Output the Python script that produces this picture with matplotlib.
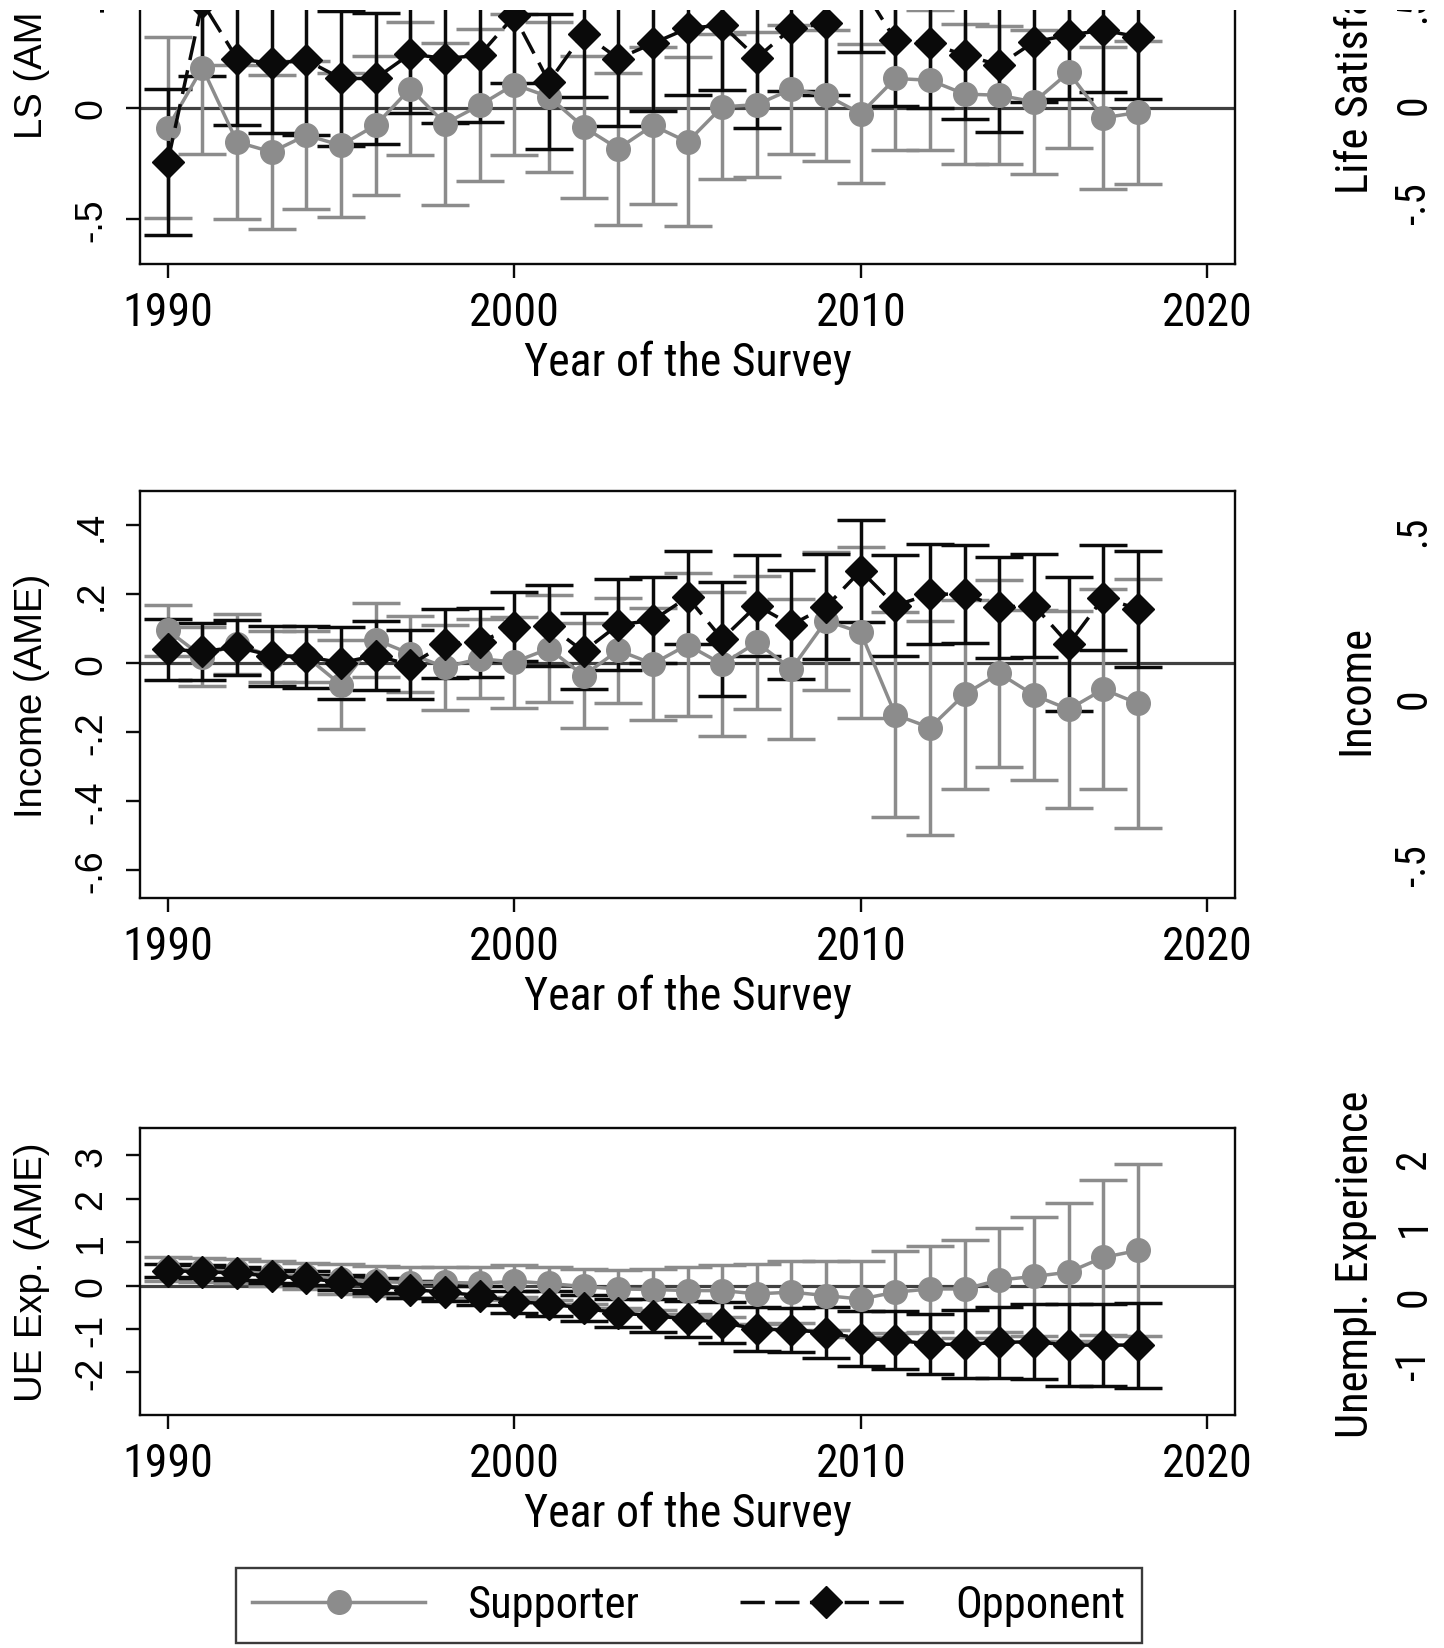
import matplotlib
matplotlib.use("Agg")
import matplotlib.pyplot as plt
from matplotlib import font_manager
from matplotlib.lines import Line2D
from matplotlib.patches import Rectangle

# ---------------- data ----------------
years = list(range(1990, 2019))

ls_sup = [-0.091, 0.178, -0.154, -0.199, -0.124, -0.169, -0.079, 0.085, -0.072, 0.010,
          0.103, 0.048, -0.087, -0.184, -0.080, -0.154, 0.003, 0.013, 0.082, 0.055,
          -0.027, 0.130, 0.122, 0.060, 0.055, 0.025, 0.157, -0.046, -0.022]
ls_sup_ci = [0.405, 0.387, 0.343, 0.343, 0.331, 0.322, 0.311, 0.296, 0.362, 0.340,
             0.316, 0.336, 0.319, 0.340, 0.351, 0.378, 0.324, 0.326, 0.289, 0.292,
             0.310, 0.321, 0.313, 0.312, 0.309, 0.324, 0.339, 0.317, 0.321]
ls_opp = [-0.243, 0.470, 0.219, 0.197, 0.212, 0.130, 0.130, 0.240, 0.219, 0.234,
          0.410, 0.115, 0.331, 0.219, 0.287, 0.354, 0.369, 0.222, 0.354, 0.376,
          0.550, 0.301, 0.287, 0.234, 0.190, 0.294, 0.324, 0.346, 0.316]
ls_opp_ci = [0.328, 0.330, 0.295, 0.309, 0.336, 0.300, 0.291, 0.265, 0.290, 0.300,
             0.300, 0.302, 0.285, 0.303, 0.302, 0.300, 0.291, 0.312, 0.280, 0.320,
             0.300, 0.294, 0.291, 0.286, 0.299, 0.270, 0.284, 0.276, 0.276]

inc_sup = [0.096, 0.020, 0.057, 0.020, 0.020, -0.062, 0.069, 0.028, -0.011, 0.014,
           0.004, 0.043, -0.035, 0.038, -0.001, 0.054, -0.002, 0.061, -0.016, 0.124,
           0.090, -0.149, -0.186, -0.089, -0.029, -0.092, -0.133, -0.075, -0.116]
inc_sup_ci = [0.074, 0.086, 0.087, 0.075, 0.075, 0.129, 0.107, 0.110, 0.123, 0.114,
              0.132, 0.155, 0.152, 0.153, 0.163, 0.207, 0.208, 0.193, 0.204, 0.200,
              0.247, 0.297, 0.310, 0.274, 0.271, 0.247, 0.285, 0.290, 0.360]
inc_opp = [0.041, 0.035, 0.047, 0.023, 0.020, 0.002, 0.023, -0.004, 0.057, 0.062,
           0.106, 0.110, 0.035, 0.112, 0.125, 0.192, 0.071, 0.168, 0.112, 0.165,
           0.269, 0.168, 0.201, 0.201, 0.163, 0.168, 0.056, 0.190, 0.158]
inc_opp_ci = [0.089, 0.083, 0.080, 0.087, 0.090, 0.104, 0.100, 0.100, 0.100, 0.100,
              0.100, 0.117, 0.110, 0.132, 0.125, 0.135, 0.166, 0.147, 0.158, 0.152,
              0.148, 0.146, 0.145, 0.142, 0.146, 0.150, 0.195, 0.152, 0.167]

ue_sup = [0.38, 0.36, 0.33, 0.27, 0.22, 0.15, 0.10, 0.07, 0.08, 0.05,
          0.10, 0.05, -0.02, -0.077, -0.09, -0.115, -0.115, -0.19, -0.15, -0.23,
          -0.31, -0.15, -0.077, -0.077, 0.13, 0.21, 0.31, 0.65, 0.81]
ue_sup_ci = [0.27, 0.27, 0.28, 0.29, 0.30, 0.35, 0.35, 0.36, 0.36, 0.38,
             0.37, 0.39, 0.41, 0.44, 0.47, 0.54, 0.60, 0.69, 0.71, 0.79,
             0.87, 0.94, 1.00, 1.13, 1.19, 1.36, 1.59, 1.79, 1.98]
ue_opp = [0.346, 0.32, 0.29, 0.215, 0.17, 0.077, 0.0, -0.09, -0.15, -0.23,
          -0.37, -0.42, -0.52, -0.63, -0.69, -0.77, -0.85, -1.00, -1.02, -1.08,
          -1.22, -1.25, -1.35, -1.35, -1.31, -1.29, -1.37, -1.37, -1.37]
ue_opp_ci = [0.15, 0.15, 0.15, 0.15, 0.16, 0.17, 0.18, 0.19, 0.20, 0.22,
             0.25, 0.29, 0.30, 0.33, 0.38, 0.42, 0.48, 0.50, 0.50, 0.58,
             0.63, 0.66, 0.69, 0.78, 0.81, 0.86, 0.94, 0.94, 0.98]

x_ticks = [1990, 2000, 2010, 2020]
ls_ticks = [-0.5, 0, 0.5, 1]
ls_ticklabels = ['-.5', '0', '.5', '1']
inc_ticks = [-0.6, -0.4, -0.2, 0, 0.2, 0.4]
inc_ticklabels = ['-.6', '-.4', '-.2', '0', '.2', '.4']
ue_ticks = [-2, -1, 0, 1, 2, 3]
ue_ticklabels = ['-2', '-1', '0', '1', '2', '3']

panel_ylabels = ['LS (AME)', 'Income (AME)', 'UE Exp. (AME)']
xlabel = 'Year of the Survey'
series_labels = ['Supporter', 'Opponent']

# right-hand (cropped) neighbour column: labels and tick labels
right_titles = ['Life Satisfaction', 'Income', 'Unempl. Experience']
right_ticklabels = [['.5', '0', '-.5'], ['.5', '0', '-.5'], ['2', '1', '0', '-1']]

# ---------------- style ----------------
W, H = 1444, 1649
fig = plt.figure(figsize=(W / 100, H / 100), dpi=100)

fonts = font_manager.fontManager.ttflist
names = {f.name for f in fonts}
NARROW = None
for cand in ['Liberation Sans Narrow', 'Arial Narrow', 'Roboto Condensed',
             'Open Sans Condensed', 'DejaVu Sans Condensed', 'Noto Sans Condensed']:
    if cand in names:
        NARROW = cand
        break
NARROW_STRETCH = 'normal'
if NARROW is None:
    for f in fonts:
        if 'Narrow' in f.name or 'Condensed' in f.name:
            NARROW = f.name
            break
if NARROW is None:
    for f in fonts:
        if str(f.stretch) in ('condensed', 'semi-condensed', '75', '87.5') and f.name in (
                'Roboto', 'Open Sans', 'Noto Sans', 'Inter', 'DejaVu Sans', 'Liberation Sans'):
            NARROW = f.name
            NARROW_STRETCH = 'condensed'
            break
if NARROW is None:
    NARROW = 'Liberation Sans'
REG = 'Liberation Sans'


def nfont(size):
    return dict(family=NARROW, size=size, stretch=NARROW_STRETCH)


GRAY = '#8c8c8c'
BLACK = '#0a0a0a'
ZERO = '#404040'


def rect(left, top, right, bottom):
    return [left / W, 1 - bottom / H, (right - left) / W, (bottom - top) / H]


panels = [
    dict(r=rect(140, -153, 1235, 265), ylim=(-0.7, 1.17), ticks=ls_ticks, tl=ls_ticklabels,
         sup=ls_sup, supci=ls_sup_ci, opp=ls_opp, oppci=ls_opp_ci),
    dict(r=rect(140, 492, 1235, 899), ylim=(-0.68, 0.5), ticks=inc_ticks, tl=inc_ticklabels,
         sup=inc_sup, supci=inc_sup_ci, opp=inc_opp, oppci=inc_opp_ci),
    dict(r=rect(140, 1129, 1235, 1416), ylim=(-2.98, 3.63), ticks=ue_ticks, tl=ue_ticklabels,
         sup=ue_sup, supci=ue_sup_ci, opp=ue_opp, oppci=ue_opp_ci),
]

DASH = (7, 3)
LW = 2.5
for p, ylab in zip(panels, panel_ylabels):
    ax = fig.add_axes(p['r'])
    ax.set_xlim(1989.2, 2020.8)
    ax.set_ylim(*p['ylim'])
    ax.axhline(0, color=ZERO, lw=2.3, zorder=1)
    ax.errorbar(years, p['sup'], yerr=p['supci'], fmt='none', ecolor=GRAY,
                elinewidth=LW, capsize=17, capthick=LW, zorder=2)
    ax.errorbar(years, p['opp'], yerr=p['oppci'], fmt='none', ecolor=BLACK,
                elinewidth=LW, capsize=17, capthick=LW, zorder=3)
    ax.plot(years, p['sup'], color=GRAY, lw=LW, marker='o', ms=17,
            mec=GRAY, mfc=GRAY, zorder=4)
    ax.plot(years, p['opp'], color=BLACK, lw=LW, dashes=DASH, marker='D', ms=16,
            mec=BLACK, mfc=BLACK, zorder=5)
    ax.set_xticks(x_ticks)
    ax.set_xticklabels([str(t) for t in x_ticks], fontproperties=nfont(33))
    ax.set_yticks(p['ticks'])
    ax.set_yticklabels(p['tl'], fontsize=27, family=REG, rotation=90, va='center')
    ax.tick_params(axis='both', direction='out', length=10, width=1.7, color=BLACK)
    ax.tick_params(axis='x', pad=9)
    ax.tick_params(axis='y', pad=12)
    for s in ax.spines.values():
        s.set_linewidth(1.7)
        s.set_color(BLACK)
    ax.set_xlabel(xlabel, fontproperties=nfont(33), labelpad=4)
    ax.set_ylabel(ylab, fontsize=27.5, family=REG)
    ax.yaxis.set_label_coords(-0.082, 0.5)

# right neighbour column (cropped)
right_title_start = [194.5, 755, 1438.5]
right_tick_y = [[7, 105, 203], [531, 699, 865], [1160, 1227, 1296.5, 1365]]
for t, ystart, labs, ys in zip(right_titles, right_title_start, right_ticklabels, right_tick_y):
    fig.text(1356 / W, 1 - ystart / H, t, rotation=90, rotation_mode='anchor',
             ha='left', va='center', fontproperties=nfont(32))
    for lab, yy in zip(labs, ys):
        fig.text(1414 / W, 1 - yy / H, lab, rotation=90, ha='center', va='center',
                 fontproperties=nfont(30))

# legend
h_sup = Line2D([], [], color=GRAY, lw=LW, marker='o', ms=17, mfc=GRAY, mec=GRAY)
h_opp = Line2D([], [], color=BLACK, lw=LW, dashes=DASH, marker='D', ms=16, mfc=BLACK, mec=BLACK)
leg = fig.legend([h_sup, h_opp], series_labels, loc='upper left',
                 bbox_to_anchor=(235.5 / W, 1 - 1569 / H), ncol=2, frameon=True,
                 fancybox=False, borderpad=0.37, handlelength=3.9, handletextpad=0.95,
                 columnspacing=2.25, borderaxespad=0, numpoints=1,
                 prop=font_manager.FontProperties(**nfont(32)))
leg.get_frame().set_edgecolor(BLACK)
leg.get_frame().set_linewidth(1.7)

# white band along the top edge (cropped source)
fig.add_artist(Rectangle((0, 1 - 11 / H), 1, 11 / H, transform=fig.transFigure,
                         facecolor='white', edgecolor='none', zorder=10))

fig.savefig('out.png', dpi=100, facecolor='white')
